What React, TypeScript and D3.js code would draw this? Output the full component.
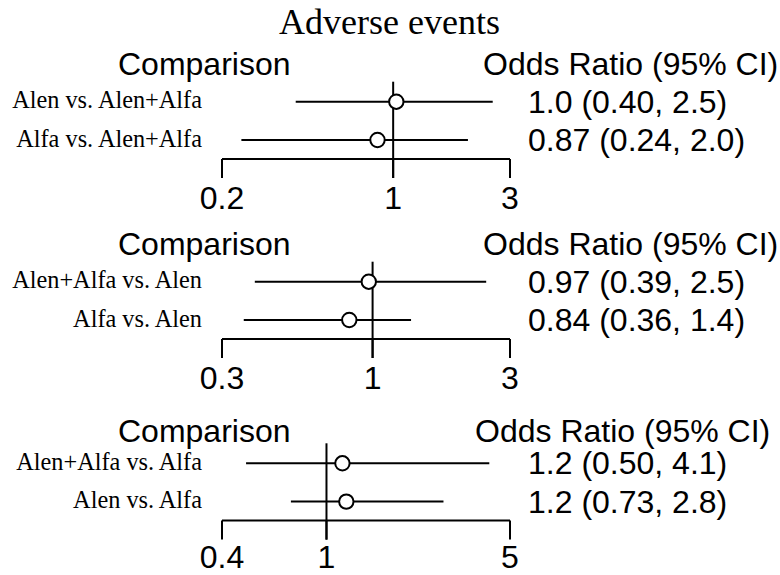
import React from 'react';
import * as d3 from 'd3';

// three forest plots, one per reference arm
const panelLabels = [
  ['Alen vs. Alen+Alfa', 'Alfa vs. Alen+Alfa'],
  ['Alen+Alfa vs. Alen', 'Alfa vs. Alen'],
  ['Alen+Alfa vs. Alfa', 'Alen vs. Alfa'],
];
const oddsRatio = [
  [1.03, 0.863],
  [0.97, 0.83],
  [1.15, 1.19],
];
const ciLow = [
  [0.4, 0.24],
  [0.39, 0.357],
  [0.494, 0.732],
];
const ciHigh = [
  [2.55, 2.02],
  [2.48, 1.36],
  [4.17, 2.79],
];
const ciText = [
  ['1.0 (0.40, 2.5)', '0.87 (0.24, 2.0)'],
  ['0.97 (0.39, 2.5)', '0.84 (0.36, 1.4)'],
  ['1.2 (0.50, 4.1)', '1.2 (0.73, 2.8)'],
];
const tickValues = [
  [0.2, 1, 3],
  [0.3, 1, 3],
  [0.4, 1, 5],
];

const W = 780;
const H = 575;
const sans = '"Liberation Sans", Arial, sans-serif';
const serif = '"Liberation Serif", "Times New Roman", serif';

// vertical layout of each panel
const rowTop = [101.7, 281.7, 463.3];
const headerY = [75, 255, 441.7];
const oddsHeaderX = [483, 483, 475];
const rowGap = 38.3;

const Panel = ({ i }: { i: number }) => {
  const ticks = tickValues[i];
  const x = d3
    .scaleLog()
    .domain([ticks[0], ticks[ticks.length - 1]])
    .range([222, 510]);
  const y = (j: number) => rowTop[i] + j * rowGap;
  const axisY = y(1) + 19;
  // keep the last row of tick labels inside the picture
  const labelY = Math.min(axisY + 50, H - 7);

  return (
    <g>
      <text x={118} y={headerY[i]} fontFamily={sans} fontSize={32}>
        Comparison
      </text>
      <text x={oddsHeaderX[i]} y={headerY[i]} fontFamily={sans} fontSize={32}>
        Odds Ratio (95% CI)
      </text>

      {/* reference line at OR = 1 */}
      <line
        x1={x(1)}
        x2={x(1)}
        y1={y(0) - 20}
        y2={axisY + 19}
        stroke="#000"
        strokeWidth={2}
      />

      {panelLabels[i].map((label, j) => (
        <g key={label}>
          <text
            x={202}
            y={y(j) + 6.5}
            textAnchor="end"
            fontFamily={serif}
            fontSize={24.3}
          >
            {label}
          </text>
          <line
            x1={x(ciLow[i][j])}
            x2={x(ciHigh[i][j])}
            y1={y(j)}
            y2={y(j)}
            stroke="#000"
            strokeWidth={2}
          />
          <circle
            cx={x(oddsRatio[i][j])}
            cy={y(j)}
            r={7.2}
            fill="#fff"
            stroke="#000"
            strokeWidth={2}
          />
          <text x={528} y={y(j) + 11} fontFamily={sans} fontSize={32}>
            {ciText[i][j]}
          </text>
        </g>
      ))}

      {/* axis */}
      <line
        x1={x.range()[0]}
        x2={x.range()[1]}
        y1={axisY}
        y2={axisY}
        stroke="#000"
        strokeWidth={2}
      />
      {ticks.map(t => (
        <g key={t}>
          <line
            x1={x(t)}
            x2={x(t)}
            y1={axisY}
            y2={axisY + 19}
            stroke="#000"
            strokeWidth={2}
          />
          <text
            x={x(t)}
            y={labelY}
            textAnchor="middle"
            fontFamily={sans}
            fontSize={32}
          >
            {String(t)}
          </text>
        </g>
      ))}
    </g>
  );
};

const App = () => (
  <svg
    width={W}
    height={H}
    style={{ position: 'absolute', left: 0, top: 0, background: '#fff' }}
  >
    <text
      x={389.5}
      y={34.3}
      textAnchor="middle"
      fontFamily={serif}
      fontSize={36}
    >
      Adverse events
    </text>
    {[0, 1, 2].map(i => (
      <Panel key={i} i={i} />
    ))}
  </svg>
);

export default App;
